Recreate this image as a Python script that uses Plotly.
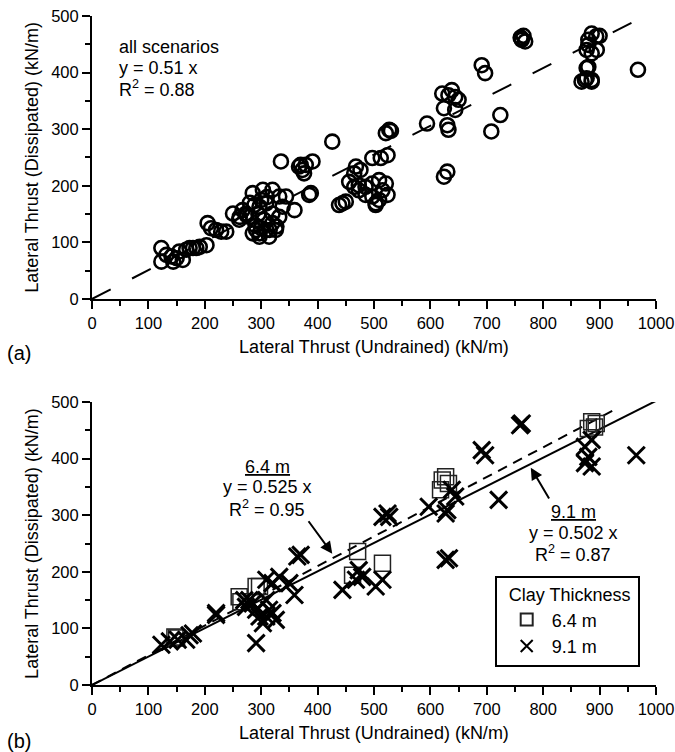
import plotly.graph_objects as go

# ---------------- data ----------------
# (a) all scenarios (circles)
all_x = [123,123,132,141,144,150,155,161,167,173,179,185,191,203,
         205,211,220,229,238,250,261,262,273,274,
         285,303,320,332,338,332,320,309,297,291,279,267,288,309,320,314,326,297,285,297,315,327,300,310,295,305,280,290,300,
         344,359,385,335,367,373,379,391,370,376,388,426,
         438,444,450,
         456,465,473,485,497,509,521,515,524,509,497,485,473,503,503,
         468,476,465,497,512,524,521,527,530,
         594,621,632,644,650,624,644,630,632,638,630,624,
         691,697,724,708,
         762,760,765,768,761,
         880,886,877,886,880,874,886,868,894,880,877,877,886,900,895,
         968]
all_y = [90,66,78,75,66,72,84,69,87,90,90,90,92,95,
         134,125,122,119,119,151,140,145,151,148,
         187,193,193,181,163,145,134,122,110,122,145,157,166,169,151,110,122,163,116,116,122,128,175,180,150,140,170,130,125,
         181,157,184,243,234,228,237,243,237,222,187,278,
         166,169,172,
         207,198,192,198,204,210,204,192,184,175,181,184,201,169,166,
         234,228,222,249,249,254,293,299,297,
         310,363,360,357,352,337,334,307,299,369,225,216,
         413,399,325,296,
         458,462,465,455,461,
         458,469,440,434,410,387,384,384,464,449,408,390,387,465,440,
         405]

# (b) clay thickness 6.4 m (squares)
c64_x = [147,150,261,264,291,297,471,462,515,621,627,632,618,886,894,891,880]
c64_y = [85,83,156,147,174,174,236,194,215,362,368,356,345,465,462,456,453]

# (b) clay thickness 9.1 m (crosses)
c91_x = [123,138,152,167,173,179,220,220,270,279,273,285,291,297,309,320,303,314,326,291,309,
         309,320,332,350,359,370,364,444,473,479,468,503,515,515,527,524,597,627,630,644,638,
         627,633,691,697,721,762,759,886,874,880,874,886,965]
c91_y = [71,77,80,80,88,91,124,127,150,150,138,144,74,121,121,127,109,133,115,133,150,
         186,180,191,180,159,230,227,168,203,191,186,174,186,297,297,303,315,303,309,333,345,
         221,224,415,406,327,462,459,433,421,403,392,386,406]

# fitted lines: slope and x-extent
fit_all = {"slope": 0.51, "x": [0, 960]}
fit_64 = {"slope": 0.525, "x": [0, 930]}
fit_91 = {"slope": 0.502, "x": [0, 1000]}

x_title = "Lateral Thrust (Undrained) (kN/m)"
y_title = "Lateral Thrust (Dissipated) (kN/m)"

FONT = "Liberation Sans, Arial, sans-serif"
FS = 18

fig = go.Figure()

# --- top panel ---
fig.add_trace(go.Scatter(
    x=fit_all["x"], y=[fit_all["slope"] * v for v in fit_all["x"]],
    mode="lines", line=dict(color="black", width=2, dash="21px,24px"),
    showlegend=False, xaxis="x", yaxis="y", hoverinfo="skip"))
fig.add_trace(go.Scatter(
    x=all_x, y=all_y, mode="markers",
    marker=dict(symbol="circle-open", size=14, color="black", line=dict(width=2.6, color="black")),
    showlegend=False, xaxis="x", yaxis="y"))

# --- bottom panel ---
fig.add_trace(go.Scatter(
    x=fit_64["x"], y=[fit_64["slope"] * v for v in fit_64["x"]],
    mode="lines", line=dict(color="black", width=2, dash="10px,7px"),
    showlegend=False, xaxis="x2", yaxis="y2", hoverinfo="skip"))
fig.add_trace(go.Scatter(
    x=fit_91["x"], y=[fit_91["slope"] * v for v in fit_91["x"]],
    mode="lines", line=dict(color="black", width=2),
    showlegend=False, xaxis="x2", yaxis="y2", hoverinfo="skip"))
fig.add_trace(go.Scatter(
    x=c64_x, y=c64_y, mode="markers", name="\u00a06.4 m",
    marker=dict(symbol="square-open", size=16, color="#222", line=dict(width=1.5, color="#222")),
    xaxis="x2", yaxis="y2"))
fig.add_trace(go.Scatter(
    x=c91_x, y=c91_y, mode="markers", name="\u00a09.1 m",
    marker=dict(symbol="x-thin-open", size=17, color="black", line=dict(width=3, color="black")),
    xaxis="x2", yaxis="y2"))

axis_common = dict(
    range=[0, 1000], dtick=100, tick0=0, ticks="outside", ticklen=8, tickwidth=1.5,
    tickcolor="black", showline=True, linecolor="black", linewidth=2,
    showgrid=False, zeroline=False, tickfont=dict(size=16.5, color="black", family=FONT),
    ticklabeloverflow="allow", automargin=False,
    minor=dict(dtick=50, ticks="outside", ticklen=5, tickwidth=1.5, tickcolor="black"),
)
yaxis_common = dict(axis_common)
yaxis_common.update(range=[0, 500])

fig.update_layout(
    width=675, height=752,
    margin=dict(l=92, r=19, t=16, b=67),
    paper_bgcolor="white", plot_bgcolor="white",
    font=dict(family=FONT, size=FS, color="black"),
    xaxis=dict(axis_common, domain=[0, 1], anchor="y",
               title=dict(text=x_title, font=dict(size=FS), standoff=10)),
    yaxis=dict(yaxis_common, domain=[0.577, 1], anchor="x",
               title=dict(text=y_title, font=dict(size=FS), standoff=8)),
    xaxis2=dict(axis_common, domain=[0, 1], anchor="y2",
                title=dict(text=x_title, font=dict(size=FS), standoff=10)),
    yaxis2=dict(yaxis_common, domain=[0, 0.423], anchor="x2",
                title=dict(text=y_title, font=dict(size=FS), standoff=8)),
    legend=dict(
        x=0.714, y=0.163, xanchor="left", yanchor="top",
        bordercolor="black", borderwidth=2, bgcolor="white",
        title=dict(text="\u00a0\u00a0Clay Thickness\u00a0", font=dict(size=FS), side="top"),
        font=dict(size=FS), itemsizing="constant", tracegroupgap=0, indentation=10,
    ),
    showlegend=True,
)

def txt(text, x, y, xref, yref, xanchor):
    return dict(text=text, xref=xref, yref=yref, x=x, y=y, xanchor=xanchor,
                yanchor="middle", showarrow=False, font=dict(size=FS))

annotations = [
    txt("all scenarios", 44, 445, "x", "y", "left"),
    txt("y = 0.51 x", 44, 408, "x", "y", "left"),
    txt("R<sup>2</sup> = 0.88", 44, 372, "x", "y", "left"),
    txt("<u>6.4 m</u>", 311, 385, "x2", "y2", "center"),
    txt("y = 0.525 x", 311, 349, "x2", "y2", "center"),
    txt("R<sup>2</sup> = 0.95", 311, 312, "x2", "y2", "center"),
    txt("<u>9.1 m</u>", 853, 306, "x2", "y2", "center"),
    txt("y = 0.502 x", 853, 269, "x2", "y2", "center"),
    txt("R<sup>2</sup> = 0.87", 853, 232, "x2", "y2", "center"),
    dict(text="", xref="x2", yref="y2", x=426, y=232, ax=382, ay=292, axref="x2", ayref="y2",
         showarrow=True, arrowhead=2, arrowsize=1.2, arrowwidth=2, arrowcolor="black"),
    dict(text="", xref="x2", yref="y2", x=778, y=384, ax=812, ay=327, axref="x2", ayref="y2",
         showarrow=True, arrowhead=2, arrowsize=1.2, arrowwidth=2, arrowcolor="black"),
    dict(text="(a)", xref="paper", yref="paper", x=-0.155, y=0.497, xanchor="left", yanchor="middle",
         showarrow=False, font=dict(size=20)),
    dict(text="(b)", xref="paper", yref="paper", x=-0.155, y=-0.083, xanchor="left", yanchor="middle",
         showarrow=False, font=dict(size=20)),
]
fig.update_layout(annotations=annotations)

fig.write_html("out.html")
